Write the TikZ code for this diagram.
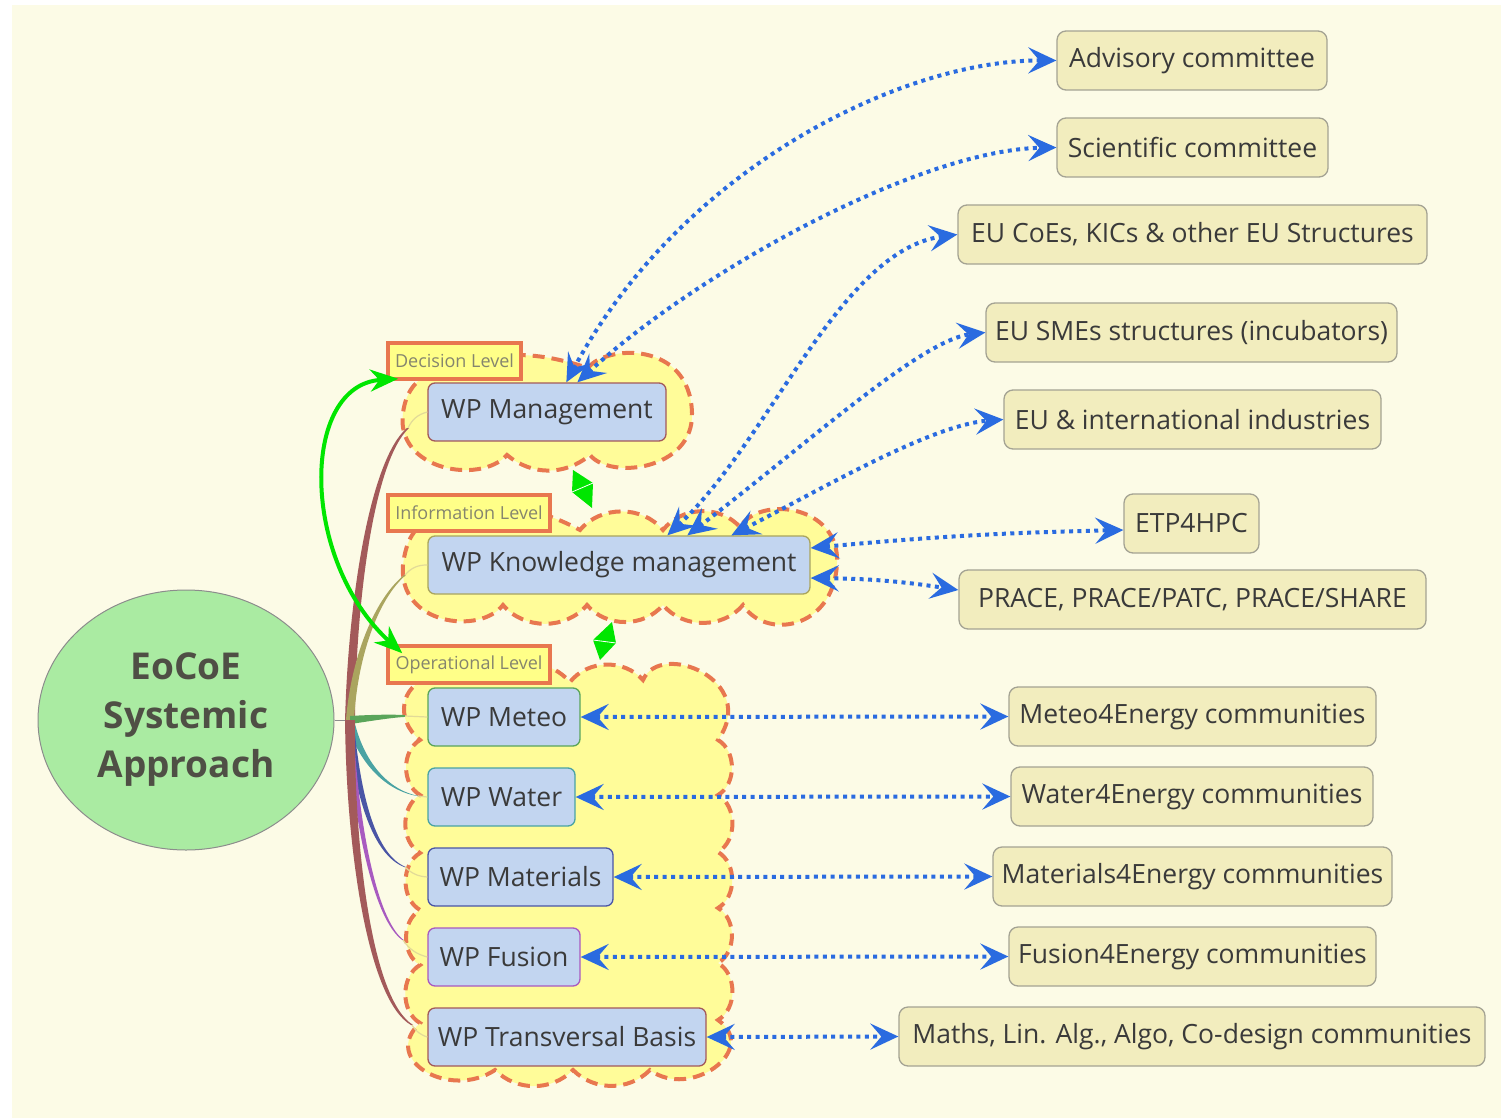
\documentclass[tikz,border=0pt]{standalone}
\usepackage{fontspec}
\setmainfont{Open Sans}
\usetikzlibrary{arrows.meta,shapes.geometric,calc}
\definecolor{bgcream}{HTML}{FCFBE6}
\definecolor{cloudfill}{HTML}{FFFC99}
\definecolor{cloudedge}{HTML}{E8774F}
\definecolor{wpfill}{HTML}{C2D5F0}
\definecolor{extfill}{HTML}{F2EDBE}
\definecolor{extedge}{HTML}{A4A393}
\definecolor{lblfill}{HTML}{FFFF88}
\definecolor{lbltext}{HTML}{85856E}
\definecolor{txt}{HTML}{3A3A3A}
\definecolor{ctrtxt}{HTML}{4F4F45}
\definecolor{ctrfill}{HTML}{AAEBA2}
\definecolor{ctredge}{HTML}{8C8C8C}
\definecolor{linkblue}{HTML}{2A6BE0}
\definecolor{linkgreen}{HTML}{00E600}
\definecolor{brred}{HTML}{A35A5A}
\definecolor{brolive}{HTML}{AAA55E}
\definecolor{brgreen}{HTML}{5AA55A}
\definecolor{brteal}{HTML}{4AA3A3}
\definecolor{brblue}{HTML}{4A55A5}
\definecolor{brpurple}{HTML}{A85AC0}
\definecolor{thinlink}{HTML}{E2DA98}
\tikzset{
  wpbox/.style={draw=#1, fill=wpfill, rounded corners=7pt, line width=1.3pt, minimum height=58pt, inner sep=0pt, font=\fontsize{26.5}{30}\selectfont, text=txt},
  extbox/.style={draw=extedge, fill=extfill, rounded corners=9pt, line width=1.3pt, minimum height=59pt, inner sep=0pt, font=\fontsize{26.5}{30}\selectfont, text=txt},
  lvlbox/.style={draw=cloudedge, fill=lblfill, line width=3.5pt, minimum height=36pt, inner sep=0pt, font=\fontsize{18}{20}\selectfont, text=lbltext},
  cloudarea/.style={fill=cloudfill, draw=cloudedge, line width=4pt, dash pattern=on 12pt off 7pt},
  bilink/.style={draw=linkblue, line width=4pt, dash pattern=on 4pt off 4.4pt, >={Stealth[length=28pt,width=26pt,inset=11pt]}, <->},
  greenlink/.style={draw=linkgreen, line width=4pt, >={Stealth[length=28pt,width=22pt,inset=9pt]}, <->},
  thinconn/.style={draw=thinlink, line width=1.2pt},
  greentip/.style={fill=linkgreen},
}
\newcommand\mybranch[6]{%
  \fill[#1] ($(J)+(-4.5*#2,-4.5*#3)$) .. controls ($#4+(-3.5*#2,-3.5*#3)$) and ($#5+(-2*#2,-2*#3)$) .. ($(#6)+(-1*#2,-1*#3)$)
     -- ($(#6)+(1*#2,1*#3)$) .. controls ($#5+(2*#2,2*#3)$) and ($#4+(3.5*#2,3.5*#3)$) .. ($(J)+(4.5*#2,4.5*#3)$) -- cycle;}
\begin{document}
\begin{tikzpicture}[x=1pt,y=-1pt]
\useasboundingbox (0,0) rectangle (1501,1118);
\fill[white] (0,0) rectangle (1501,1118);
\fill[bgcream] (12,5) rectangle (1501,1118);

% clouds
\path[cloudarea] (440,372) to[bend left=20] (588,368)
  .. controls (605,345) and (690,340) .. (692,413)
  .. controls (694,470) and (610,480) .. (590,455)
  to[bend left=40] (507,455)
  .. controls (480,485) and (395,470) .. (403,413)
  .. controls (406,390) and (418,375) .. (440,372) -- cycle;
\path[cloudarea] (430,522) to[bend left=25] (580,530) to[bend left=50] (663,530) to[bend left=50] (740,527)
  .. controls (760,495) and (840,505) .. (837,563)
  .. controls (834,630) and (765,640) .. (743,605)
  to[bend left=50] (663,605) to[bend left=50] (587,605) to[bend left=50] (503,605)
  .. controls (480,635) and (398,625) .. (403,565)
  .. controls (406,540) and (415,525) .. (430,522) -- cycle;
\path[cloudarea] (430,678) to[bend left=30] (500,672) to[bend left=40] (570,682) to[bend left=50] (643,680)
  .. controls (660,640) and (760,680) .. (718,740)
  to[bend left=60] (718,795) to[bend left=60] (718,852) to[bend left=60] (718,908) to[bend left=60] (718,963) to[bend left=60] (718,1020)
  .. controls (760,1050) and (690,1100) .. (650,1070)
  to[bend left=45] (573,1070) to[bend left=45] (495,1070)
  .. controls (450,1100) and (380,1060) .. (420,1023)
  to[bend left=60] (420,965) to[bend left=60] (420,910) to[bend left=60] (420,853) to[bend left=60] (420,795) to[bend left=60] (420,740)
  .. controls (395,720) and (400,685) .. (430,678) -- cycle;

% central node and branches
\node[ellipse, draw=ctredge, fill=ctrfill, line width=1pt, minimum width=296pt, minimum height=260pt, inner sep=0pt, align=center, text=ctrtxt, font=\bfseries\fontsize{37}{49}\selectfont] (ctr) at (186,720) {EoCoE\\Systemic\\Approach};
\coordinate (J) at (350,720);
\coordinate (emgmt) at (408,428);
\coordinate (eknow) at (405,575);
\coordinate (emet) at (405,716);
\coordinate (ewat) at (418,796);
\coordinate (emat) at (405,867);
\coordinate (efus) at (403,940);
\coordinate (etrn) at (412,1025);
\draw[ctredge, line width=1pt] (ctr.east) -- (J);
\mybranch{brred}{1.1}{0}{(352,600)}{(372,460)}{emgmt}
\mybranch{brolive}{0.9}{0}{(354,660)}{(375,600)}{eknow}
\mybranch{brgreen}{0}{0.9}{(370,718)}{(390,716)}{emet}
\mybranch{brteal}{0.9}{0}{(360,760)}{(385,790)}{ewat}
\mybranch{brblue}{0.8}{0}{(358,800)}{(375,855)}{emat}
\mybranch{brpurple}{0.7}{0}{(355,820)}{(375,920)}{efus}
\mybranch{brred}{1.1}{0}{(350,850)}{(370,1000)}{etrn}

% WP nodes
\node[wpbox=brred, minimum width=238pt] (mgmt) at (547,412) {WP Management};
\node[wpbox=brolive, minimum width=382pt] (know) at (619,565) {WP Knowledge management};
\node[wpbox=brgreen, minimum width=152pt] (meteo) at (504,717) {WP Meteo};
\node[wpbox=brteal, minimum width=147pt] (water) at (501.5,797) {WP Water};
\node[wpbox=brblue, minimum width=185pt] (mat) at (520.5,877) {WP Materials};
\node[wpbox=brpurple, minimum width=152pt] (fus) at (504,957) {WP Fusion};
\node[wpbox=brred, minimum width=278pt] (trn) at (567,1037) {WP Transversal Basis};

\draw[thinconn] (emgmt) to[bend left=25] (mgmt.west);
\draw[thinconn] (eknow) to[bend left=25] (know.west);
\draw[thinconn] (emet) -- (meteo.west);
\draw[thinconn] (ewat) -- (water.west);
\draw[thinconn] (emat) to[bend right=20] (mat.west);
\draw[thinconn] (efus) to[bend right=20] (fus.west);
\draw[thinconn] (etrn) to[bend right=20] (trn.west);

% level labels
\node[lvlbox, minimum width=133pt] (dec) at (454.5,361) {Decision Level};
\node[lvlbox, minimum width=162pt] (info) at (469,513) {Information Level};
\node[lvlbox, minimum width=162pt, minimum height=37pt] (oper) at (469,664.5) {Operational Level};

% external nodes
\node[extbox, minimum width=270pt] (adv) at (1192,60.5) {Advisory committee};
\node[extbox, minimum width=271pt] (sci) at (1192.5,147.5) {Scientific committee};
\node[extbox, minimum width=469pt] (coe) at (1192.5,234.5) {EU CoEs, KICs \& other EU Structures};
\node[extbox, minimum width=411pt] (sme) at (1191.5,332.5) {EU SMEs structures (incubators)};
\node[extbox, minimum width=377pt] (ind) at (1192.5,419.5) {EU \& international industries};
\node[extbox, minimum width=135pt] (etp) at (1191.5,523.5) {ETP4HPC};
\node[extbox, minimum width=467pt] (prace) at (1192.5,599.5) {PRACE, PRACE/PATC, PRACE/SHARE};
\node[extbox, minimum width=367pt] (m4e) at (1192.5,716.5) {Meteo4Energy communities};
\node[extbox, minimum width=362pt] (w4e) at (1192,796.5) {Water4Energy communities};
\node[extbox, minimum width=399pt] (mat4e) at (1192.5,876.5) {Materials4Energy communities};
\node[extbox, minimum width=367pt] (f4e) at (1192.5,956.5) {Fusion4Energy communities};
\node[extbox, minimum width=586pt] (maths) at (1192,1036.5) {Maths, Lin. Alg., Algo, Co-design communities};

% blue links
\draw[bilink] ([xshift=139pt]mgmt.north west) .. controls (680,170) and (900,60) .. (adv.west);
\draw[bilink] ([xshift=150pt]mgmt.north west) .. controls (700,270) and (920,150) .. (sci.west);
\draw[bilink] ([xshift=240pt]know.north west) .. controls (770,440) and (840,250) .. (coe.west);
\draw[bilink] ([xshift=260pt]know.north west) .. controls (800,450) and (920,340) .. (sme.west);
\draw[bilink] ([xshift=304pt]know.north west) .. controls (820,490) and (930,425) .. (ind.west);
\draw[bilink] ([yshift=17pt]know.east) to[bend left=2] ([yshift=-6.5pt]etp.west);
\draw[bilink] ([yshift=-13pt]know.east) to[bend left=4] ([yshift=9.5pt]prace.west);
\draw[bilink] (meteo.east) -- (m4e.west);
\draw[bilink] (water.east) -- (w4e.west);
\draw[bilink] (mat.east) -- (mat4e.west);
\draw[bilink] (fus.east) -- (f4e.west);
\draw[bilink] (trn.east) -- (maths.west);

% green links
\draw[greenlink] ([xshift=12pt,yshift=2pt]dec.south west) .. controls (300,385) and (300,560) .. ([xshift=16pt,yshift=-9pt]oper.north west);
\fill[greentip] (573,470) -- (593,483) -- (572,492) -- cycle;
\fill[greentip] (572,492) -- (593,483) -- (592,508) -- cycle;
\draw[white, line width=0.8pt] (572,492) -- (593,483);
\fill[greentip] (612,622) -- (616,643) -- (593,640) -- cycle;
\fill[greentip] (593,640) -- (616,643) -- (600,660) -- cycle;
\draw[white, line width=0.8pt] (593,640) -- (616,643);
\end{tikzpicture}
\end{document}
